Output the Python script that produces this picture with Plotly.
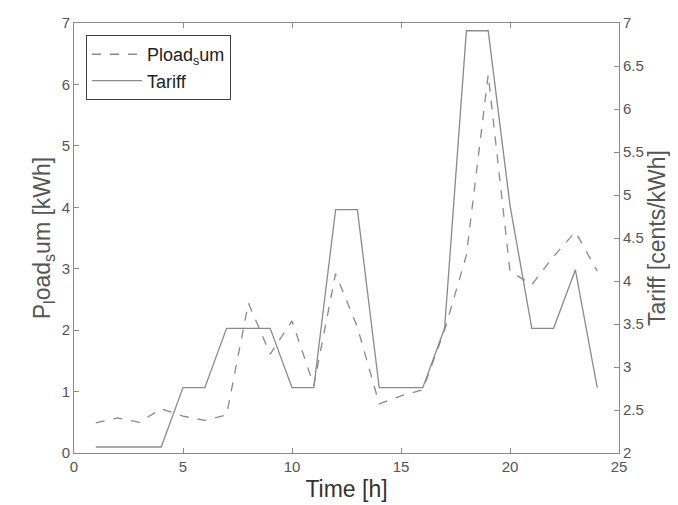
import plotly.graph_objects as go

hours = list(range(1, 25))
pload_sum = [0.49, 0.57, 0.50, 0.72, 0.60, 0.53, 0.62, 2.44, 1.61, 2.15, 1.10, 2.92,
             2.05, 0.80, 0.93, 1.03, 2.00, 3.22, 6.16, 2.96, 2.74, 3.20, 3.60, 2.96]
tariff = [2.07, 2.07, 2.07, 2.07, 2.76, 2.76, 3.45, 3.45, 3.45, 2.76, 2.76, 4.83,
          4.83, 2.76, 2.76, 2.76, 3.45, 6.91, 6.91, 4.88, 3.45, 3.45, 4.13, 2.76]

gray = "#8a8a8a"
font = "Liberation Sans, Arial, sans-serif"

fig = go.Figure()
fig.add_trace(go.Scatter(x=hours, y=pload_sum, name="Pload<sub>s</sub>um", mode="lines",
                         line=dict(color=gray, width=1.3, dash="dash")))
fig.add_trace(go.Scatter(x=hours, y=tariff, name="Tariff", mode="lines", yaxis="y2",
                         line=dict(color=gray, width=1.3)))

fig.update_layout(
    width=678, height=505,
    margin=dict(l=66, r=67, t=15, b=60),
    paper_bgcolor="white", plot_bgcolor="white",
    font=dict(family=font, color="#555555", size=15),
    showlegend=True,
    legend=dict(x=0.022, y=0.972, xanchor="left", yanchor="top",
                bordercolor="#404040", borderwidth=1, bgcolor="white",
                itemwidth=50, font=dict(size=18, color="#222222"), tracegroupgap=0),
    xaxis=dict(range=[0, 25], tickvals=[0, 5, 10, 15, 20, 25],
               ticks="inside", ticklen=5, tickcolor=gray, automargin=False,
               showline=True, linecolor=gray, mirror="ticks", showgrid=False, zeroline=False,
               title=dict(text="Time [h]", font=dict(size=23, color="#333333"), standoff=6)),
    yaxis=dict(range=[0, 7], tickvals=[0, 1, 2, 3, 4, 5, 6, 7],
               ticks="inside", ticklen=5, tickcolor=gray, automargin=False,
               showline=True, linecolor=gray, showgrid=False, zeroline=False,
               title=dict(text="P<sub>l</sub>oad<sub>s</sub>um [kWh]",
                          font=dict(size=23, color="#555555"), standoff=4)),
    yaxis2=dict(range=[2, 7], overlaying="y", side="right", automargin=False,
                tickvals=[2, 2.5, 3, 3.5, 4, 4.5, 5, 5.5, 6, 6.5, 7],
                ticktext=["2", "2.5", "3", "3.5", "4", "4.5", "5", "5.5", "6", "6.5", "7"],
                ticks="inside", ticklen=5, tickcolor=gray,
                showline=True, linecolor=gray, showgrid=False, zeroline=False,
                title=dict(text="Tariff [cents/kWh]", font=dict(size=23, color="#555555"), standoff=4)),
)

fig.write_html("out.html")
